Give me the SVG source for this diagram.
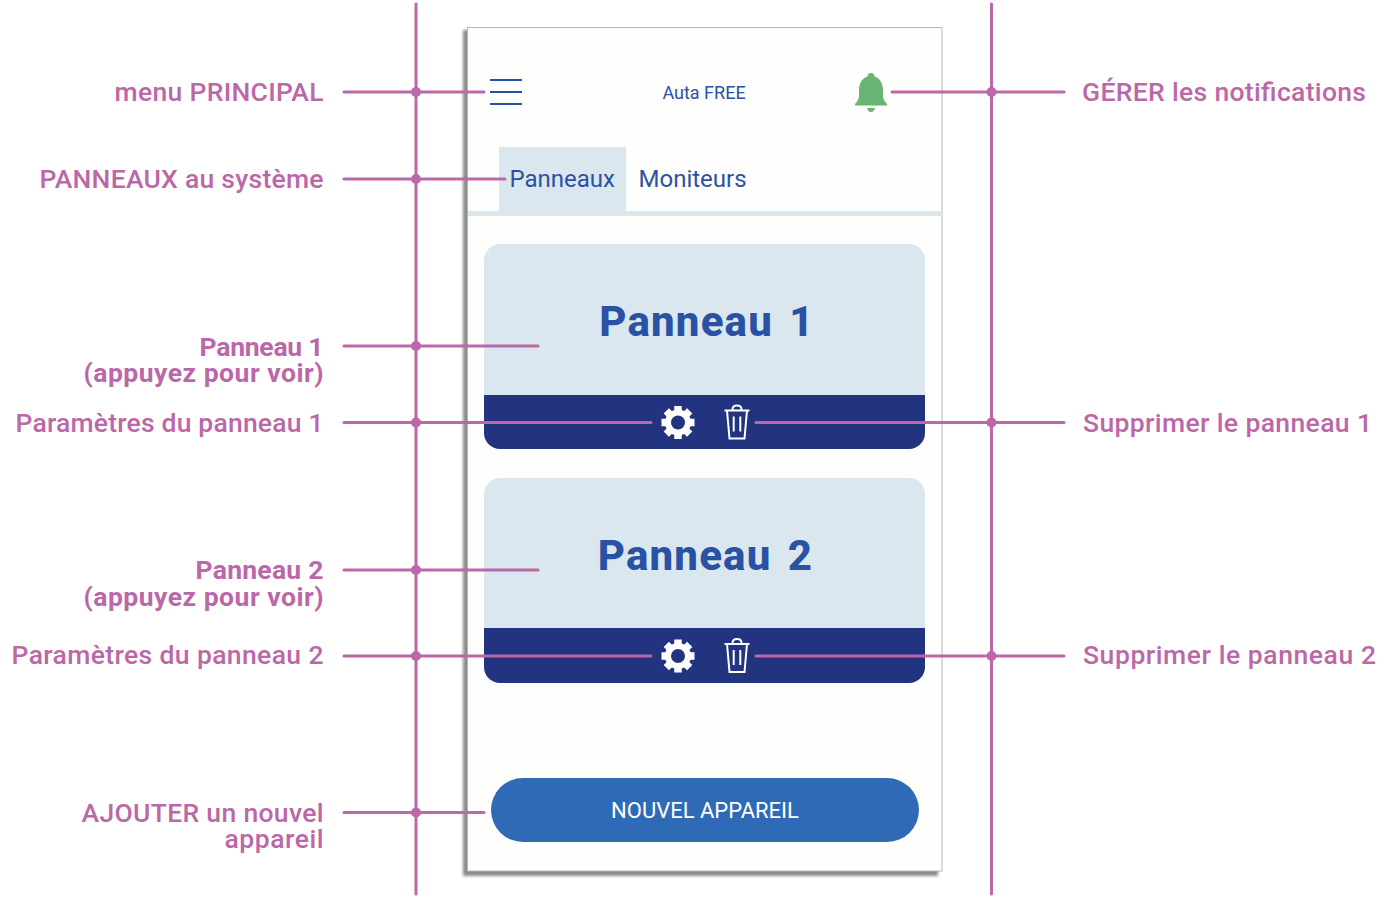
<svg xmlns="http://www.w3.org/2000/svg" width="1391" height="899" viewBox="0 0 1391 899">
<style>
.lab{font-family:Roboto,"Liberation Sans",sans-serif;font-size:26.500px;font-weight:500;fill:#bb67a8}
.b{font-weight:700}
.l{text-anchor:end}
.ui{font-family:Roboto,"Liberation Sans",sans-serif;fill:#2a52a4}
.big{font-family:Roboto,"Liberation Sans",sans-serif;font-weight:800;font-size:42px;letter-spacing:1.200px;word-spacing:-3.500px;fill:#2a52a4;text-anchor:middle}
.conn line{stroke:#bb67a8;stroke-width:3;stroke-linecap:round}
.conn circle{fill:#bb67a8}
.card{fill:#dbe7ee}
.bar{fill:#22347f}
</style>
<defs>
<filter id="sh" x="-5%" y="-5%" width="110%" height="110%"><feGaussianBlur stdDeviation="1.500"/></filter>
<g id="gear">
<circle r="13" fill="#fff"/>
<g stroke="#fff" stroke-width="7.500">
<line x1="-16.500" x2="16.500"/>
<line y1="-16.500" y2="16.500"/>
<line x1="-11.700" y1="-11.700" x2="11.700" y2="11.700"/>
<line x1="-11.700" y1="11.700" x2="11.700" y2="-11.700"/>
</g>
<circle r="7" fill="#22347f"/>
</g>
<g id="trash" fill="none" stroke="#fff" stroke-width="2">
<path d="M-12.500-12H12.500M-10-12L-7.500 16H7.500L10-12M-3.300-6V9M3.300-6V9M-4.500-12V-13Q-4.500-17 0-17Q4.500-17 4.500-13V-12"/>
</g>
</defs>

<g id="phone">
<rect x="463" y="30" width="475" height="846" fill="#777" opacity=".85" filter="url(#sh)"/>
<rect x="467.500" y="27.500" width="474.500" height="843.500" fill="#fefefc" stroke="#b5b7ba" stroke-width="1"/>
</g>

<g id="header">
<path d="M490 80H522M490 92H522M490 104H522" stroke="#2a52a4" stroke-width="1.800" fill="none"/>
<text class="ui" x="704" y="98.500" font-size="18" text-anchor="middle">Auta FREE</text>
<path fill="#68b573" d="M871 73a3.500 3.500 0 0 1 3.500 3.500C880 78 883 84 883 90V96Q883 100 887 104V105.500H855V104Q859 100 859 96V90C859 84 862 78 867.500 76.500A3.500 3.500 0 0 1 871 73zM867 108h8q-1 4-4 4t-4-4z"/>
</g>

<g id="tabs">
<rect x="499" y="147" width="127" height="65" class="card"/>
<rect x="468" y="211" width="474" height="5" class="card"/>
<text class="ui" x="509.500" y="187" font-size="24">Panneaux</text>
<text class="ui" x="638.500" y="187" font-size="24">Moniteurs</text>
</g>

<g id="panneau1">
<path class="card" d="M484 395V260a16 16 0 0 1 16-16H909a16 16 0 0 1 16 16V395z"/>
<path class="bar" d="M484 395H925V433a16 16 0 0 1-16 16H500a16 16 0 0 1-16-16z"/>
<text class="big" x="707" y="336" xml:space="preserve">Panneau  1</text>
<use href="#gear" x="678" y="422.500"/>
<use href="#trash" x="737" y="422.500"/>
</g>

<g id="panneau2">
<path class="card" d="M484 628V494a16 16 0 0 1 16-16H909a16 16 0 0 1 16 16V628z"/>
<path class="bar" d="M484 628H925V667a16 16 0 0 1-16 16H500a16 16 0 0 1-16-16z"/>
<text class="big" x="705.500" y="570" xml:space="preserve">Panneau  2</text>
<use href="#gear" x="678" y="656"/>
<use href="#trash" x="737" y="656"/>
</g>

<g id="bouton">
<rect x="491" y="778" width="428" height="64" rx="32" fill="#2e6ab5"/>
<text x="705" y="818" font-family="Roboto,'Liberation Sans',sans-serif" font-size="22" fill="#fff" text-anchor="middle">NOUVEL APPAREIL</text>
</g>

<g id="connecteurs" class="conn">
<line x1="416" y1="4" x2="416" y2="894"/>
<line x1="991.500" y1="4" x2="991.500" y2="894"/>
<line x1="344" y1="92" x2="484" y2="92"/>
<line x1="344" y1="179" x2="505" y2="179"/>
<line x1="344" y1="346" x2="538" y2="346"/>
<line x1="344" y1="422.500" x2="651" y2="422.500"/>
<line x1="344" y1="570" x2="538" y2="570"/>
<line x1="344" y1="656" x2="651" y2="656"/>
<line x1="344" y1="812.500" x2="484" y2="812.500"/>
<line x1="892" y1="92" x2="1064" y2="92"/>
<line x1="756" y1="422.500" x2="1064" y2="422.500"/>
<line x1="756" y1="656" x2="1064" y2="656"/>
<circle cx="416" cy="92" r="5"/><circle cx="416" cy="179" r="5"/><circle cx="416" cy="346" r="5"/>
<circle cx="416" cy="422.500" r="5"/><circle cx="416" cy="570" r="5"/><circle cx="416" cy="656" r="5"/><circle cx="416" cy="812.500" r="5"/>
<circle cx="991.500" cy="92" r="5"/><circle cx="991.500" cy="422.500" r="5"/><circle cx="991.500" cy="656" r="5"/>
</g>

<g id="etiquettes">
<text class="lab l" x="323.500" y="101" textLength="209">menu PRINCIPAL</text>
<text class="lab l" x="323.500" y="188" textLength="284">PANNEAUX au système</text>
<text class="lab l b" x="323.500" y="356" textLength="124">Panneau 1</text>
<text class="lab l b" x="323.500" y="382" textLength="240">(appuyez pour voir)</text>
<text class="lab l" x="323.500" y="432" textLength="308">Paramètres du panneau 1</text>
<text class="lab l b" x="323.500" y="579" textLength="128">Panneau 2</text>
<text class="lab l b" x="323.500" y="606" textLength="240">(appuyez pour voir)</text>
<text class="lab l" x="323.500" y="664" textLength="312">Paramètres du panneau 2</text>
<text class="lab l" x="323.500" y="822" textLength="242">AJOUTER un nouvel</text>
<text class="lab l" x="323.500" y="848" textLength="99">appareil</text>
<text class="lab" x="1082" y="101" textLength="284">GÉRER les notifications</text>
<text class="lab" x="1083" y="432" textLength="289">Supprimer le panneau 1</text>
<text class="lab" x="1083" y="664" textLength="293">Supprimer le panneau 2</text>
</g>
</svg>
